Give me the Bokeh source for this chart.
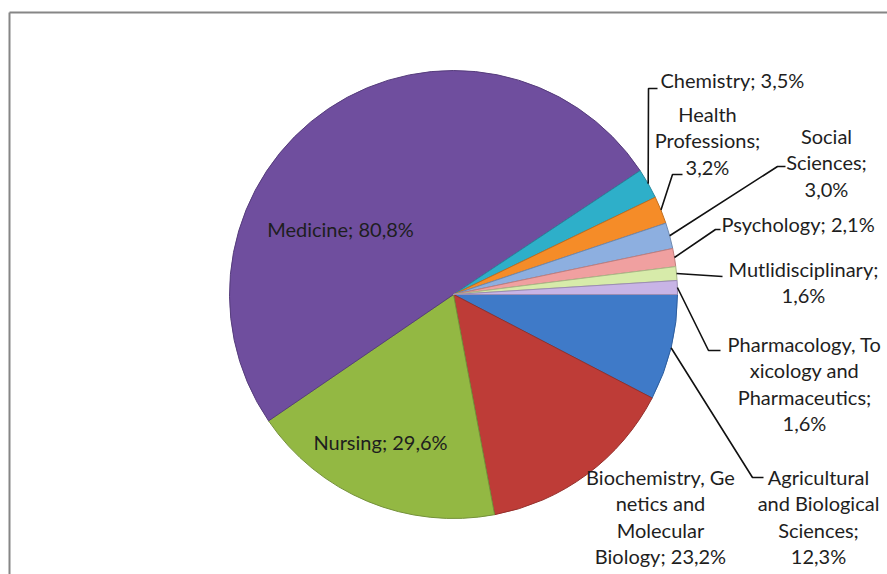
import numpy as np
from bokeh.plotting import figure
from bokeh.models import ColumnDataSource, Range1d
from bokeh.core.properties import value
from bokeh.embed import file_html
from bokeh.resources import INLINE

# ---------------- data ----------------
categories = [
    "Agricultural and Biological Sciences",
    "Biochemistry, Genetics and Molecular Biology",
    "Nursing",
    "Medicine",
    "Chemistry",
    "Health Professions",
    "Social Sciences",
    "Psychology",
    "Mutlidisciplinary",
    "Pharmacology, Toxicology and Pharmaceutics",
]
shares = [12.3, 23.2, 29.6, 80.8, 3.5, 3.2, 3.0, 2.1, 1.6, 1.6]
label_templates = [
    "Agricultural\nand Biological\nSciences;\n{}",
    "Biochemistry, Ge\nnetics and\nMolecular\nBiology; {}",
    "Nursing; {}",
    "Medicine; {}",
    "Chemistry; {}",
    "Health\nProfessions;\n{}",
    "Social\nSciences;\n{}",
    "Psychology; {}",
    "Mutlidisciplinary;\n{}",
    "Pharmacology, To\nxicology and\nPharmaceutics;\n{}",
]
colors = ["#3F7AC8", "#BE3C37", "#93B843", "#6F4E9E", "#2EAFC9",
          "#F58C28", "#8DAFE0", "#F0A0A0", "#D7EBAA", "#C8B4E6"]
edge_colors = ["#2E5E9E", "#94302C", "#74913A", "#563D7C", "#25889E",
               "#C06E20", "#6E89B0", "#C07E7E", "#A9B886", "#9C8DB4"]

# ---------------- layout (screen pixels) ----------------
W, H = 887, 574
CX, CY, R = 453, 294, 224
LINE_H = 26.5
FONT = "Lato"
FSIZE = "20px"
# (anchor x, first baseline y, align, leader points after the slice point)
label_layout = [
    (818, 476, "center", [(752, 477), (763, 477)]),
    (660, 476, "center", None),
    (380, 441, "center", None),
    (340, 228, "center", None),
    (660, 79, "left", [(648, 88), (657, 88)]),
    (707, 113, "center", [(672, 174), (682, 174)]),
    (826, 135, "center", [(777, 166), (785, 166)]),
    (721, 223, "left", [(715, 229), (720, 229)]),
    (803, 268, "center", [(722, 276)]),
    (804, 343, "center", [(708, 350), (720, 350)]),
]


def dx(x):
    return x


def dy(y):
    return H - y


p = figure(width=W, height=H, x_range=Range1d(0, W), y_range=Range1d(0, H),
           output_backend="svg", toolbar_location=None, min_border=0)
p.axis.visible = False
p.grid.visible = False
p.outline_line_color = None
p.background_fill_color = "white"
p.border_fill_color = "white"

# chart-area border (top and left edges visible in the crop)
p.line([dx(9), dx(9)], [dy(580), dy(12)], line_color="#868686", line_width=2)
p.line([dx(9), dx(890)], [dy(12), dy(12)], line_color="#868686", line_width=2)

# ---------------- pie ----------------
vals = np.array(shares, dtype=float)
frac = vals / vals.sum()
cw_end = np.cumsum(frac) * 2 * np.pi
cw_start = cw_end - frac * 2 * np.pi
cw_mid = (cw_start + cw_end) / 2

src = ColumnDataSource(dict(
    x=[dx(CX)] * len(vals), y=[dy(CY)] * len(vals),
    start=list(-cw_end), end=list(-cw_start),
    color=colors, edge=edge_colors, cat=categories,
))
p.wedge(x="x", y="y", radius=R, start_angle="start", end_angle="end",
        direction="anticlock", fill_color="color", line_color="edge",
        line_width=1, source=src)

# ---------------- leaders and labels ----------------
def pct(v):
    return ("%.1f" % v).replace(".", ",") + "%"


rows = {"left": dict(x=[], y=[], text=[]), "center": dict(x=[], y=[], text=[])}
for i, (ax, by, align, leader) in enumerate(label_layout):
    text = label_templates[i].format(pct(shares[i]))
    for k, line in enumerate(text.split("\n")):
        rows[align]["x"].append(dx(ax))
        rows[align]["y"].append(dy(by + k * LINE_H))
        rows[align]["text"].append(line)
    if leader:
        sx = CX + R * np.cos(cw_mid[i])
        sy = CY + R * np.sin(cw_mid[i])
        pts = [(sx, sy)] + leader
        p.line([dx(a) for a, _ in pts], [dy(b) for _, b in pts],
               line_color="#111111", line_width=1.6)

for align in ("left", "center"):
    p.text(x="x", y="y", text="text", source=ColumnDataSource(rows[align]),
           text_align=align, text_baseline="alphabetic",
           text_font=value(FONT), text_font_size=value(FSIZE),
           text_color="#1E1E1E")

open("out.html", "w").write(file_html(p, INLINE))
